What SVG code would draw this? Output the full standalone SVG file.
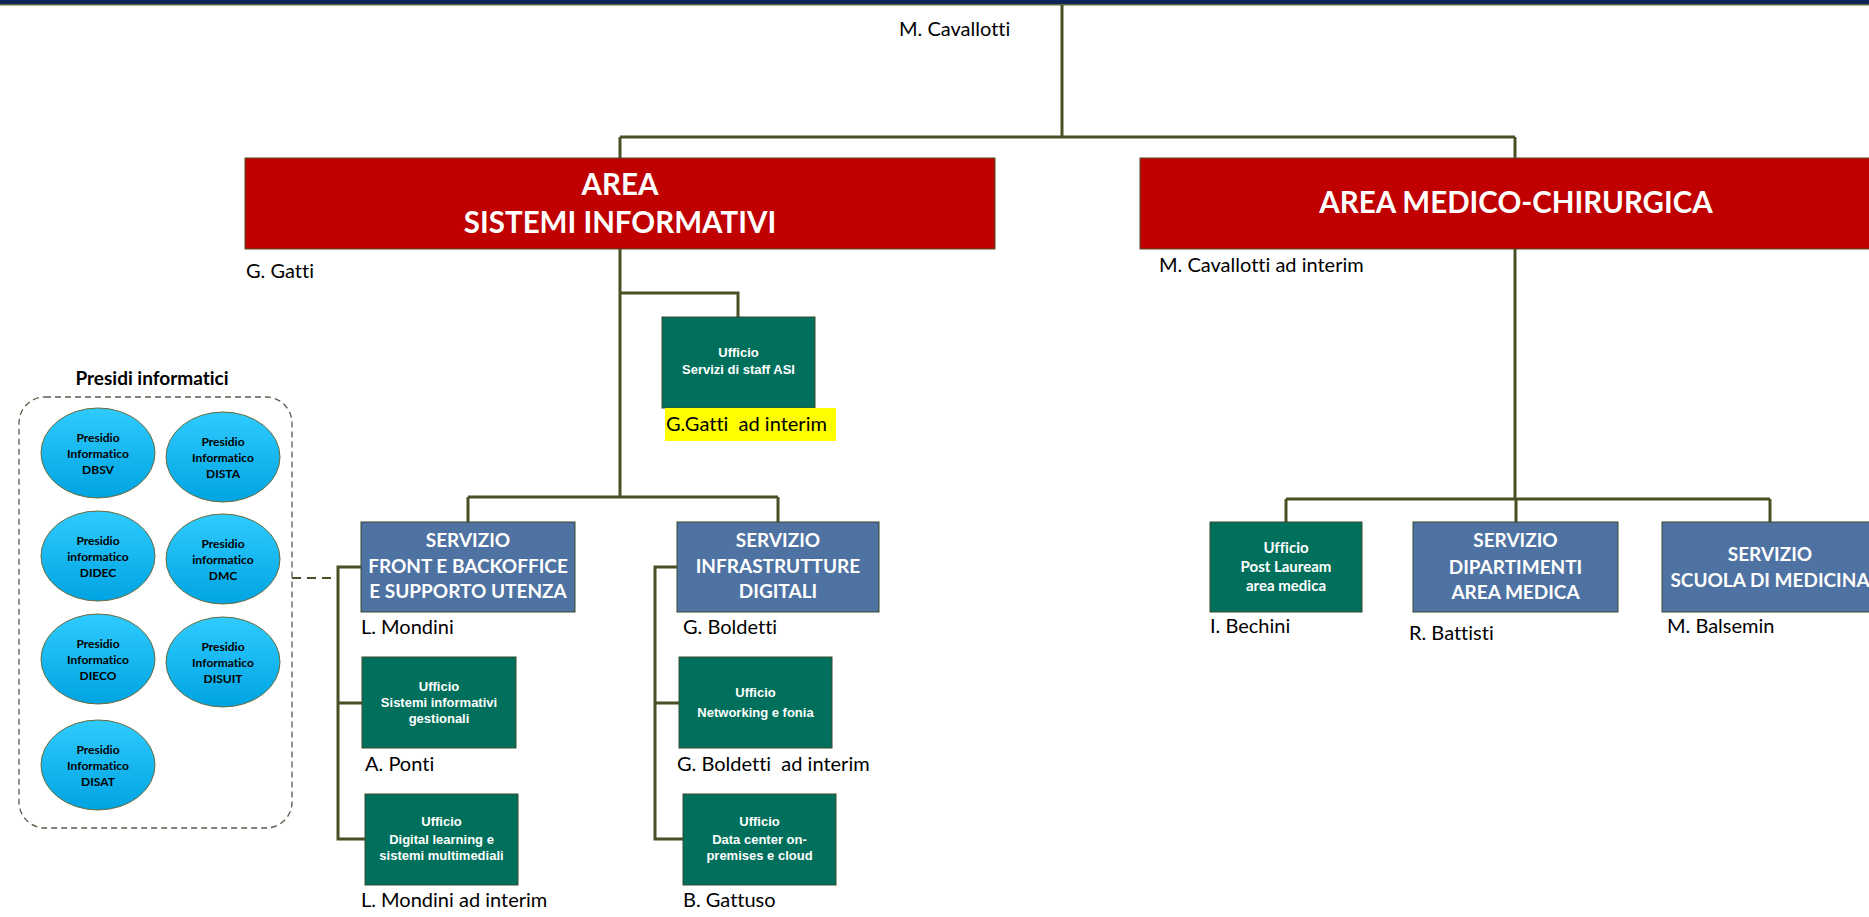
<svg xmlns="http://www.w3.org/2000/svg" width="1869" height="917" viewBox="0 0 1869 917">
<defs>
<linearGradient id="gEll" x1="0" y1="0" x2="0" y2="1">
<stop offset="0" stop-color="#2fcbff"/>
<stop offset="1" stop-color="#00a4e2"/>
</linearGradient>
<style>
text{font-variant-ligatures:none}
.con{fill:none;stroke:#4a4f26;stroke-width:3}
.dash{fill:none;stroke:#4a4f26;stroke-width:2;stroke-dasharray:9,6}
.red{fill:#c00000;stroke:#4a4f26;stroke-width:1}
.blue{fill:#4e72a2;stroke:#3b4a2f;stroke-width:1}
.green{fill:#00705c;stroke:#3b4a2f;stroke-width:1}
.ell{fill:url(#gEll);stroke:#6b6b3a;stroke-width:1}
.hdr{font-family:Lato,"Liberation Sans",sans-serif;font-weight:bold;font-size:29.5px;fill:#fff;text-anchor:middle}
.srv{font-family:Lato,"Liberation Sans",sans-serif;font-weight:bold;font-size:19px;fill:#fff;text-anchor:middle}
.uff{font-family:"Liberation Sans",Arial,sans-serif;font-weight:bold;font-size:13px;fill:#fff;text-anchor:middle}
.uffc{font-family:Lato,"Liberation Sans",sans-serif;font-weight:bold;font-size:15px;fill:#fff;text-anchor:middle}
.lbl{font-family:Lato,"Liberation Sans",sans-serif;font-size:20px;fill:#000;white-space:pre}
.pres{font-family:Lato,"Liberation Sans",sans-serif;font-weight:bold;font-size:12px;fill:#000;text-anchor:middle}
.ttl{font-family:Lato,"Liberation Sans",sans-serif;font-weight:bold;font-size:19px;fill:#000;text-anchor:middle}
</style>
</defs>
<rect x="0" y="0" width="1869" height="917" fill="#fff"/>
<rect x="0" y="0" width="1869" height="4" fill="#0b2557"/>
<rect x="0" y="4" width="1869" height="1.5" fill="#5b6b3c"/>

<g id="connectors">
<path class="con" d="M1062 5V137M620 137H1515M620 137V158M1515 137V158"/>
<path class="con" d="M620 249V497M620 293H738V317"/>
<path class="con" d="M468 497H778M468 497V522M778 497V522"/>
<path class="con" d="M361 567H338V839H365M338 703H362"/>
<path class="con" d="M677 567H655V839H683M655 703H679"/>
<path class="con" d="M1515 249V499M1286 499H1770M1286 499V522M1516 499V522M1770 499V522"/>
<path class="dash" d="M292 578H338"/>
</g>

<g id="top-label"><text class="lbl" x="899" y="36">M. Cavallotti</text></g>

<g id="area-si">
<rect class="red" x="245" y="158" width="750" height="91"/>
<text class="hdr" x="620" y="195">AREA</text>
<text class="hdr" x="620" y="233">SISTEMI INFORMATIVI</text>
<text class="lbl" x="246" y="278">G. Gatti</text>
</g>

<g id="area-mc">
<rect class="red" x="1140" y="158" width="740" height="91"/>
<text class="hdr" x="1516" y="213">AREA MEDICO-CHIRURGICA</text>
<text class="lbl" x="1159" y="272">M. Cavallotti ad interim</text>
</g>

<g id="uff-staff">
<rect class="green" x="662" y="317" width="153" height="91"/>
<text class="uff" x="738.5" y="357">Ufficio</text>
<text class="uff" x="738.5" y="374">Servizi di staff ASI</text>
<rect x="665" y="408" width="171" height="33" fill="#ffff00"/>
<text class="lbl" x="666" y="431">G.Gatti  ad interim</text>
</g>

<g id="srv-front">
<rect class="blue" x="361" y="522" width="214" height="90"/>
<text class="srv" x="468" y="547">SERVIZIO</text>
<text class="srv" x="468" y="573">FRONT E BACKOFFICE</text>
<text class="srv" x="468" y="598">E SUPPORTO UTENZA</text>
<text class="lbl" x="361" y="634">L. Mondini</text>
</g>

<g id="srv-infra">
<rect class="blue" x="677" y="522" width="202" height="90"/>
<text class="srv" x="778" y="547">SERVIZIO</text>
<text class="srv" x="778" y="573">INFRASTRUTTURE</text>
<text class="srv" x="778" y="598">DIGITALI</text>
<text class="lbl" x="683" y="634">G. Boldetti</text>
</g>

<g id="uff-sistemi">
<rect class="green" x="362" y="657" width="154" height="91"/>
<text class="uff" x="439" y="691">Ufficio</text>
<text class="uff" x="439" y="707">Sistemi informativi</text>
<text class="uff" x="439" y="723">gestionali</text>
<text class="lbl" x="365" y="771">A. Ponti</text>
</g>

<g id="uff-digital">
<rect class="green" x="365" y="794" width="153" height="91"/>
<text class="uff" x="441.5" y="826">Ufficio</text>
<text class="uff" x="441.5" y="844">Digital learning e</text>
<text class="uff" x="441.5" y="860">sistemi multimediali</text>
<text class="lbl" x="361" y="907">L. Mondini ad interim</text>
</g>

<g id="uff-networking">
<rect class="green" x="679" y="657" width="153" height="91"/>
<text class="uff" x="755.5" y="697">Ufficio</text>
<text class="uff" x="755.5" y="717">Networking e fonia</text>
<text class="lbl" x="677" y="771">G. Boldetti  ad interim</text>
</g>

<g id="uff-datacenter">
<rect class="green" x="683" y="794" width="153" height="91"/>
<text class="uff" x="759.5" y="826">Ufficio</text>
<text class="uff" x="759.5" y="844">Data center on-</text>
<text class="uff" x="759.5" y="860">premises e cloud</text>
<text class="lbl" x="683" y="907">B. Gattuso</text>
</g>

<g id="uff-postlauream">
<rect class="green" x="1210" y="522" width="152" height="90"/>
<text class="uffc" x="1286" y="553">Ufficio</text>
<text class="uffc" x="1286" y="572">Post Lauream</text>
<text class="uffc" x="1286" y="591">area medica</text>
<text class="lbl" x="1210" y="633">I. Bechini</text>
</g>

<g id="srv-dipartimenti">
<rect class="blue" x="1413" y="522" width="205" height="90"/>
<text class="srv" x="1515.5" y="547">SERVIZIO</text>
<text class="srv" x="1515.5" y="574">DIPARTIMENTI</text>
<text class="srv" x="1515.5" y="599">AREA MEDICA</text>
<text class="lbl" x="1409" y="640">R. Battisti</text>
</g>

<g id="srv-scuola">
<rect class="blue" x="1662" y="522" width="220" height="90"/>
<text class="srv" x="1770" y="561">SERVIZIO</text>
<text class="srv" x="1770" y="587">SCUOLA DI MEDICINA</text>
<text class="lbl" x="1667" y="633">M. Balsemin</text>
</g>

<g id="presidi">
<text class="ttl" x="152" y="385">Presidi informatici</text>
<rect x="19" y="397" width="273" height="431" rx="26" ry="26" fill="none" stroke="#5a5a4a" stroke-width="1.3" stroke-dasharray="6,4"/>
<g id="pres-dbsv">
<ellipse class="ell" cx="98" cy="453" rx="57" ry="45"/>
<text class="pres" x="98" y="442">Presidio</text><text class="pres" x="98" y="458">Informatico</text><text class="pres" x="98" y="474">DBSV</text>
</g>
<g id="pres-dista">
<ellipse class="ell" cx="223" cy="457" rx="57" ry="45"/>
<text class="pres" x="223" y="446">Presidio</text><text class="pres" x="223" y="462">Informatico</text><text class="pres" x="223" y="478">DISTA</text>
</g>
<g id="pres-didec">
<ellipse class="ell" cx="98" cy="556" rx="57" ry="45"/>
<text class="pres" x="98" y="545">Presidio</text><text class="pres" x="98" y="561">informatico</text><text class="pres" x="98" y="577">DIDEC</text>
</g>
<g id="pres-dmc">
<ellipse class="ell" cx="223" cy="559" rx="57" ry="45"/>
<text class="pres" x="223" y="548">Presidio</text><text class="pres" x="223" y="564">informatico</text><text class="pres" x="223" y="580">DMC</text>
</g>
<g id="pres-dieco">
<ellipse class="ell" cx="98" cy="659" rx="57" ry="45"/>
<text class="pres" x="98" y="648">Presidio</text><text class="pres" x="98" y="664">Informatico</text><text class="pres" x="98" y="680">DIECO</text>
</g>
<g id="pres-disuit">
<ellipse class="ell" cx="223" cy="662" rx="57" ry="45"/>
<text class="pres" x="223" y="651">Presidio</text><text class="pres" x="223" y="667">Informatico</text><text class="pres" x="223" y="683">DISUIT</text>
</g>
<g id="pres-disat">
<ellipse class="ell" cx="98" cy="765" rx="57" ry="45"/>
<text class="pres" x="98" y="754">Presidio</text><text class="pres" x="98" y="770">Informatico</text><text class="pres" x="98" y="786">DISAT</text>
</g>
</g>
</svg>
